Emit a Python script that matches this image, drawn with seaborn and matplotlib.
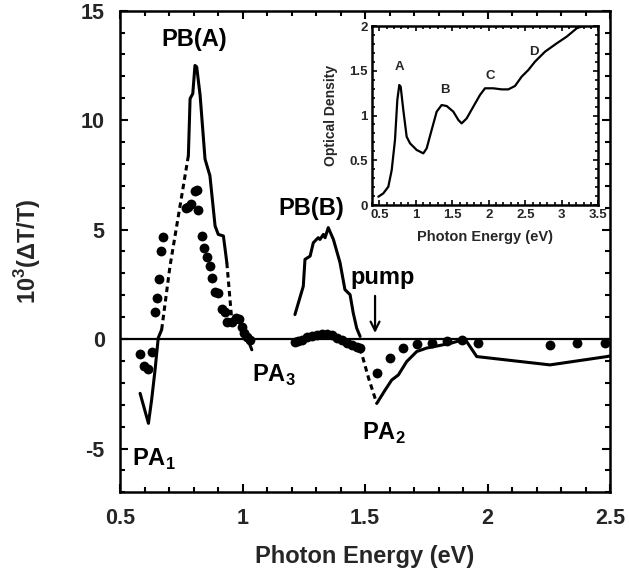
import numpy as np
import pandas as pd
import seaborn as sns
import matplotlib.pyplot as plt
from matplotlib.ticker import MultipleLocator, FormatStrFormatter

# PB(A) / PA1 region, solid and dashed pieces of the transmission curve
dip_e = [0.582, 0.616, 0.629, 0.643, 0.656, 0.670]
dip_v = [-2.48, -3.85, -2.78, -1.41, 0.05, 0.43]
rise_e = [0.670, 0.704, 0.745, 0.779]
rise_v = [0.43, 3.33, 6.08, 8.38]
peak_e = [0.779, 0.786, 0.797, 0.806, 0.813, 0.827, 0.847, 0.867, 0.888, 0.901, 0.922, 0.936]
peak_v = [8.38, 10.98, 11.21, 12.50, 12.43, 11.13, 8.22, 7.46, 5.17, 4.78, 4.71, 3.49]
fall_e = [0.936, 0.956]
fall_v = [3.49, 0.89]
tail_e = [0.956, 0.983, 1.003, 1.017, 1.038]
tail_v = [0.89, 0.89, 0.43, 0.12, -0.49]

# PB(B) / PA2 region
pbb_e = [1.214, 1.248, 1.255, 1.276, 1.289, 1.309, 1.316, 1.330, 1.337, 1.350,
         1.371, 1.398, 1.418, 1.439, 1.452, 1.466, 1.480]
pbb_v = [1.12, 2.41, 3.64, 3.79, 4.40, 4.63, 4.55, 4.78, 4.63, 5.09,
         4.55, 3.49, 2.26, 2.03, 1.19, 0.50, 0.12]
pa2_dash_e = [1.480, 1.515, 1.548]
pa2_dash_v = [-0.41, -1.80, -2.94]
pa2_e = [1.548, 1.582, 1.609, 1.636, 1.670, 1.711, 1.752, 1.806, 1.854, 1.908,
         1.956, 2.255, 2.487, 2.500]
pa2_v = [-2.94, -2.33, -1.87, -1.64, -1.03, -0.57, -0.41, -0.29, -0.18, 0.0,
         -0.80, -1.18, -0.80, -0.77]

# second data set (dots)
dots_e = [0.582, 0.598, 0.616, 0.629, 0.643, 0.652, 0.659, 0.666, 0.674,
          0.769, 0.779, 0.790, 0.806, 0.813, 0.820, 0.833, 0.843, 0.854, 0.867,
          0.877, 0.888, 0.901, 0.915, 0.929, 0.938, 0.956, 0.973, 0.987, 0.997,
          1.006, 1.017, 1.031,
          1.214, 1.228, 1.242, 1.262, 1.282, 1.303, 1.323, 1.344, 1.364, 1.385,
          1.405, 1.426, 1.446, 1.466, 1.480,
          1.548, 1.602, 1.656, 1.711, 1.772, 1.833, 1.895, 1.962, 2.255, 2.364, 2.480]
dots_v = [-0.66, -1.24, -1.39, -0.58, 1.22, 1.87, 2.74, 4.00, 4.66,
          6.00, 6.05, 6.19, 6.76, 6.80, 5.89, 4.69, 4.16, 3.75, 3.36,
          2.78, 2.17, 2.10, 1.38, 1.22, 0.80, 0.80, 0.95, 0.90, 0.56,
          0.26, 0.10, -0.05,
          -0.12, -0.10, -0.05, 0.10, 0.15, 0.18, 0.22, 0.23, 0.20, 0.03,
          -0.05, -0.20, -0.28, -0.35, -0.43,
          -1.56, -0.87, -0.41, -0.22, -0.16, -0.11, -0.05, -0.16, -0.26, -0.18, -0.18]

# inset: optical density spectrum
od_e = [0.487, 0.555, 0.624, 0.670, 0.715, 0.747, 0.774, 0.793, 0.829, 0.875,
        0.921, 1.012, 1.103, 1.149, 1.217, 1.286, 1.354, 1.423, 1.514, 1.583,
        1.628, 1.697, 1.788, 1.879, 1.948, 2.062, 2.176, 2.268, 2.359, 2.450,
        2.541, 2.633, 2.770, 2.930, 3.067, 3.204, 3.318]
od_v = [0.093, 0.13, 0.205, 0.39, 0.726, 1.173, 1.341, 1.322, 1.061, 0.763,
        0.689, 0.615, 0.577, 0.633, 0.838, 1.043, 1.117, 1.106, 1.043, 0.95,
        0.912, 0.968, 1.099, 1.229, 1.304, 1.304, 1.292, 1.292, 1.33, 1.434,
        1.508, 1.602, 1.713, 1.806, 1.881, 1.974, 2.01]
peak_names = ['A', 'B', 'C', 'D']
peak_name_e = [0.77, 1.40, 2.016, 2.62]
peak_name_v = [1.545, 1.285, 1.44, 1.71]

sns.set_theme(style='ticks')
plt.rcParams['font.family'] = ['Liberation Sans', 'DejaVu Sans']
plt.rcParams['font.weight'] = 'bold'
plt.rcParams['axes.unicode_minus'] = False
plt.rcParams['mathtext.fontset'] = 'custom'
plt.rcParams['mathtext.bf'] = 'Liberation Sans:bold'
plt.rcParams['mathtext.rm'] = 'Liberation Sans:bold'

fig = plt.figure(figsize=(6.29, 5.69), dpi=100)
ax = fig.add_axes([0.1908, 0.1348, 0.7790, 0.8464])

lw = 2.2
dash = (0, (1.8, 1.3))


def seg(x, y, **kw):
    sns.lineplot(x=x, y=y, ax=ax, sort=False, estimator=None, color='black',
                 lw=lw, **kw)


seg(dip_e, dip_v)
seg(rise_e, rise_v, linestyle=dash)
seg(peak_e, peak_v)
seg(fall_e, fall_v, linestyle=dash)
seg(tail_e, tail_v)
seg(pbb_e, pbb_v)
seg(pa2_dash_e, pa2_dash_v, linestyle=dash)
seg(pa2_e, pa2_v)

sns.scatterplot(x=dots_e, y=dots_v, ax=ax, color='black', s=50, linewidth=0,
                zorder=3)
ax.axhline(0, color='black', lw=1.6, zorder=1)

ax.set_xlim(0.5, 2.5)
ax.set_ylim(-7, 15)
ax.xaxis.set_major_locator(MultipleLocator(0.5))
ax.xaxis.set_minor_locator(MultipleLocator(0.1))
ax.yaxis.set_major_locator(MultipleLocator(5))
ax.yaxis.set_minor_locator(MultipleLocator(1))
ax.xaxis.set_major_formatter(FormatStrFormatter('%g'))
ax.tick_params(which='both', direction='in', top=True, right=True, width=1.5,
               color='black', labelsize=15.5, pad=11)
ax.tick_params(which='major', length=6)
ax.tick_params(which='minor', length=3.5)
for s in ax.spines.values():
    s.set_linewidth(1.8)
    s.set_color('black')
ax.set_xlabel('Photon Energy (eV)', fontsize=17, fontweight='bold', labelpad=12)
ax.set_ylabel('10$^{\\mathbf{3}}$(ΔT/T)', fontsize=17, fontweight='bold', labelpad=27)

tk = dict(fontsize=17, fontweight='bold', color='black')
ax.text(0.802, 13.69, 'PB(A)', ha='center', va='center', **tk)
ax.text(1.279, 5.95, 'PB(B)', ha='center', va='center', **tk)
ax.text(0.548, -5.77, 'PA$_{\\mathbf{1}}$', ha='left', va='baseline', **tk)
ax.text(1.038, -1.96, 'PA$_{\\mathbf{3}}$', ha='left', va='baseline', **tk)
ax.text(1.487, -4.62, 'PA$_{\\mathbf{2}}$', ha='left', va='baseline', **tk)
ax.text(1.571, 2.5, 'pump', ha='center', va='baseline', **tk)
ax.annotate('', xy=(1.541, 0.15), xytext=(1.541, 2.1),
            arrowprops=dict(arrowstyle='->', lw=1.6, color='black',
                            mutation_scale=16))

# inset
ins = fig.add_axes([0.5914, 0.6397, 0.3598, 0.3146])
sns.lineplot(x=od_e, y=od_v, ax=ins, sort=False, estimator=None, color='black',
             lw=1.6)
for name, e, v in zip(peak_names, peak_name_e, peak_name_v):
    ins.text(e, v, name, ha='center', va='center', fontsize=9.5,
             fontweight='bold')
ins.set_xlim(0.4, 3.5)
ins.set_ylim(0, 2)
ins.xaxis.set_major_locator(MultipleLocator(0.5))
ins.xaxis.set_minor_locator(MultipleLocator(0.1))
ins.yaxis.set_major_locator(MultipleLocator(0.5))
ins.yaxis.set_minor_locator(MultipleLocator(0.1))
ins.xaxis.set_major_formatter(FormatStrFormatter('%g'))
ins.yaxis.set_major_formatter(FormatStrFormatter('%g'))
ins.tick_params(which='both', direction='in', top=True, right=True, width=1.2,
                color='black', labelsize=9.5, pad=3)
ins.tick_params(which='major', length=3.5)
ins.tick_params(which='minor', length=2.5)
for s in ins.spines.values():
    s.set_linewidth(1.8)
    s.set_color('black')
ins.set_xlabel('Photon Energy (eV)', fontsize=10.5, fontweight='bold', labelpad=6)
ins.set_ylabel('Optical Density', fontsize=10, fontweight='bold', labelpad=8)

fig.savefig('out.png', dpi=100)
